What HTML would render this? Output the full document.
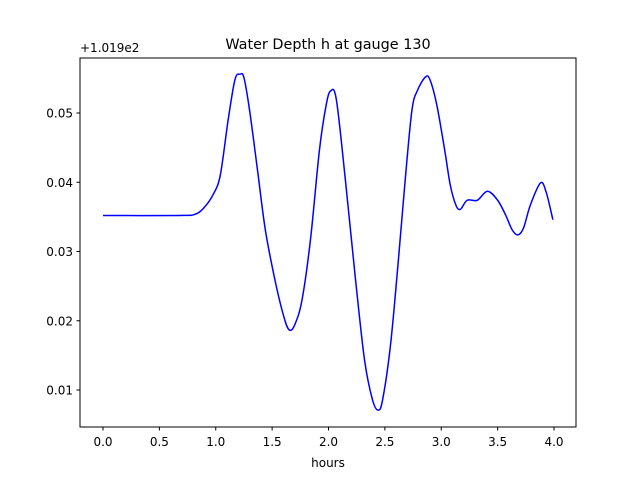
<!DOCTYPE html>
<html><head><meta charset="utf-8"><style>
body{margin:0;background:#fff}
svg text{font-family:"DejaVu Sans","Liberation Sans",sans-serif;fill:#000}
</style></head><body>
<svg width="640" height="480" id="c">
<rect width="640" height="480" fill="#fff"/>
<text x="328" y="49" text-anchor="middle" font-size="14.4">Water Depth h at gauge 130</text>
<text x="80" y="52" font-size="12">+1.019e2</text>
<text x="328" y="467" text-anchor="middle" font-size="12">hours</text>
<g id="ticks"></g>
<path id="line" fill="none" stroke="#0000ff" stroke-width="1.5"/>
<rect x="80" y="58" width="496" height="369" fill="none" stroke="#000" stroke-width="1"/>
</svg>
<script>
const times=[0,0.68,0.82,0.9,0.976,1.04,1.11,1.17,1.215,1.25,1.3,1.37,1.44,1.525,1.6,1.65,1.7,1.765,1.84,1.92,1.98,2.02,2.07,2.15,2.24,2.32,2.39,2.44,2.48,2.55,2.62,2.68,2.74,2.79,2.86,2.9,2.96,3.03,3.08,3.13,3.17,3.23,3.32,3.41,3.5,3.57,3.63,3.68,3.73,3.79,3.88,3.93,3.99];
const depths=[0.0352,0.0352,0.0354,0.0364,0.0382,0.041,0.049,0.0548,0.0556,0.0551,0.0504,0.0418,0.0331,0.0259,0.0208,0.0187,0.0194,0.023,0.0317,0.0447,0.0512,0.0532,0.0519,0.0403,0.0259,0.0143,0.0086,0.0071,0.0086,0.0165,0.0288,0.0403,0.0504,0.0533,0.0552,0.0548,0.0512,0.0447,0.0396,0.0367,0.0361,0.0374,0.0374,0.0387,0.0374,0.0353,0.0331,0.0324,0.0334,0.0367,0.0399,0.0386,0.0346];
const xTicks=[0,0.5,1,1.5,2,2.5,3,3.5,4];
const yTicks=[0.01,0.02,0.03,0.04,0.05];
const xs=t=>103+112.75*t;
const ys=v=>113+(0.05-v)*6925;
const NS="http://www.w3.org/2000/svg";
const g=document.getElementById('ticks');
xTicks.forEach(t=>{
  const l=document.createElementNS(NS,'line');
  
  
  l.setAttribute('x1',xs(t));l.setAttribute('x2',xs(t));l.setAttribute('y1',427);l.setAttribute('y2',430.5);l.setAttribute('stroke','#000');
  g.appendChild(l);
  const tx=document.createElementNS(NS,'text');
  
  
  tx.setAttribute('x',xs(t));tx.setAttribute('y',446);tx.setAttribute('text-anchor','middle');tx.setAttribute('font-size','12');
  tx.textContent=t.toFixed(1);g.appendChild(tx);
});
yTicks.forEach(v=>{
  const l=document.createElementNS(NS,'line');
  
  
  l.setAttribute('x1',76.5);l.setAttribute('x2',80);l.setAttribute('y1',ys(v));l.setAttribute('y2',ys(v));l.setAttribute('stroke','#000');
  g.appendChild(l);
  const tx=document.createElementNS(NS,'text');
  
  
  tx.setAttribute('x',73);tx.setAttribute('y',ys(v)+4.5);tx.setAttribute('text-anchor','end');tx.setAttribute('font-size','12');
  tx.textContent=v.toFixed(2);g.appendChild(tx);
});
const P=times.map((t,i)=>[xs(t),ys(depths[i])]);
let d='M'+P[0][0]+','+P[0][1];
for(let i=0;i<P.length-1;i++){
  const p0=P[i-1]||P[i],p1=P[i],p2=P[i+1],p3=P[i+2]||p2;
  const c1=[p1[0]+(p2[0]-p0[0])/6,p1[1]+(p2[1]-p0[1])/6];
  const c2=[p2[0]-(p3[0]-p1[0])/6,p2[1]-(p3[1]-p1[1])/6];
  d+=` C${c1[0]},${c1[1]} ${c2[0]},${c2[1]} ${p2[0]},${p2[1]}`;
}
document.getElementById('line').setAttribute('d',d);
</script>
</body></html>
